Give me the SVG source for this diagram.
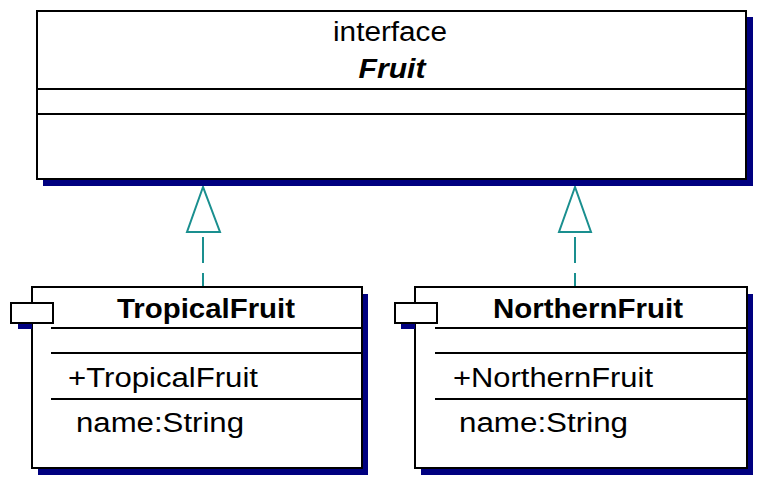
<svg xmlns="http://www.w3.org/2000/svg" width="781" height="503" viewBox="0 0 781 503">
<style>
.box{fill:#fff;stroke:#000;stroke-width:2}
.sh{fill:#000080}
.ln{stroke:#000;stroke-width:2}
.t{font-family:"Liberation Sans",Arial,sans-serif;font-size:27px;fill:#000}
.b{font-weight:bold}
.c{stroke:#1a8f8f;stroke-width:2;fill:none}
.tri{stroke:#1a8f8f;stroke-width:2;fill:#fff}
</style>
<rect width="781" height="503" fill="#fff"/>
<g id="connectors">
<path class="c" d="M203,287 V273 M203,263 V237"/>
<polygon class="tri" points="203,187 187,232 220,232"/>
<path class="c" d="M575,287 V273 M575,263 V237"/>
<polygon class="tri" points="575,187 559,232 591,232"/>
</g>
<g id="Fruit">
<rect class="sh" x="43" y="17" width="710" height="169"/>
<rect class="box" x="37" y="11" width="709" height="168"/>
<line class="ln" x1="37" y1="89" x2="746" y2="89"/>
<line class="ln" x1="37" y1="114" x2="746" y2="114"/>
<text class="t" x="390" y="41" text-anchor="middle" textLength="114" lengthAdjust="spacingAndGlyphs">interface</text>
<text class="t b" x="392" y="78" text-anchor="middle" font-style="italic" textLength="67" lengthAdjust="spacingAndGlyphs">Fruit</text>
</g>
<g id="TropicalFruit">
<rect class="sh" x="38" y="294" width="330" height="181"/>
<rect class="box" x="32" y="287" width="330" height="181"/>
<rect class="sh" x="18" y="309" width="14" height="20"/>
<rect class="box" x="11" y="303" width="42" height="20"/>
<line class="ln" x1="51" y1="328" x2="362" y2="328"/>
<line class="ln" x1="51" y1="353" x2="362" y2="353"/>
<line class="ln" x1="51" y1="399" x2="362" y2="399"/>
<text class="t b" x="206" y="318" text-anchor="middle" textLength="178" lengthAdjust="spacingAndGlyphs">TropicalFruit</text>
<text class="t" x="68" y="387" textLength="190" lengthAdjust="spacingAndGlyphs">+TropicalFruit</text>
<text class="t" x="76" y="432" textLength="168" lengthAdjust="spacingAndGlyphs">name:String</text>
</g>
<g id="NorthernFruit">
<rect class="sh" x="421" y="294" width="332" height="181"/>
<rect class="box" x="415" y="287" width="332" height="181"/>
<rect class="sh" x="401" y="309" width="14" height="20"/>
<rect class="box" x="395" y="303" width="42" height="20"/>
<line class="ln" x1="435" y1="328" x2="747" y2="328"/>
<line class="ln" x1="435" y1="353" x2="747" y2="353"/>
<line class="ln" x1="435" y1="399" x2="747" y2="399"/>
<text class="t b" x="588" y="318" text-anchor="middle" textLength="190" lengthAdjust="spacingAndGlyphs">NorthernFruit</text>
<text class="t" x="453" y="387" textLength="200" lengthAdjust="spacingAndGlyphs">+NorthernFruit</text>
<text class="t" x="459" y="432" textLength="169" lengthAdjust="spacingAndGlyphs">name:String</text>
</g>
</svg>
